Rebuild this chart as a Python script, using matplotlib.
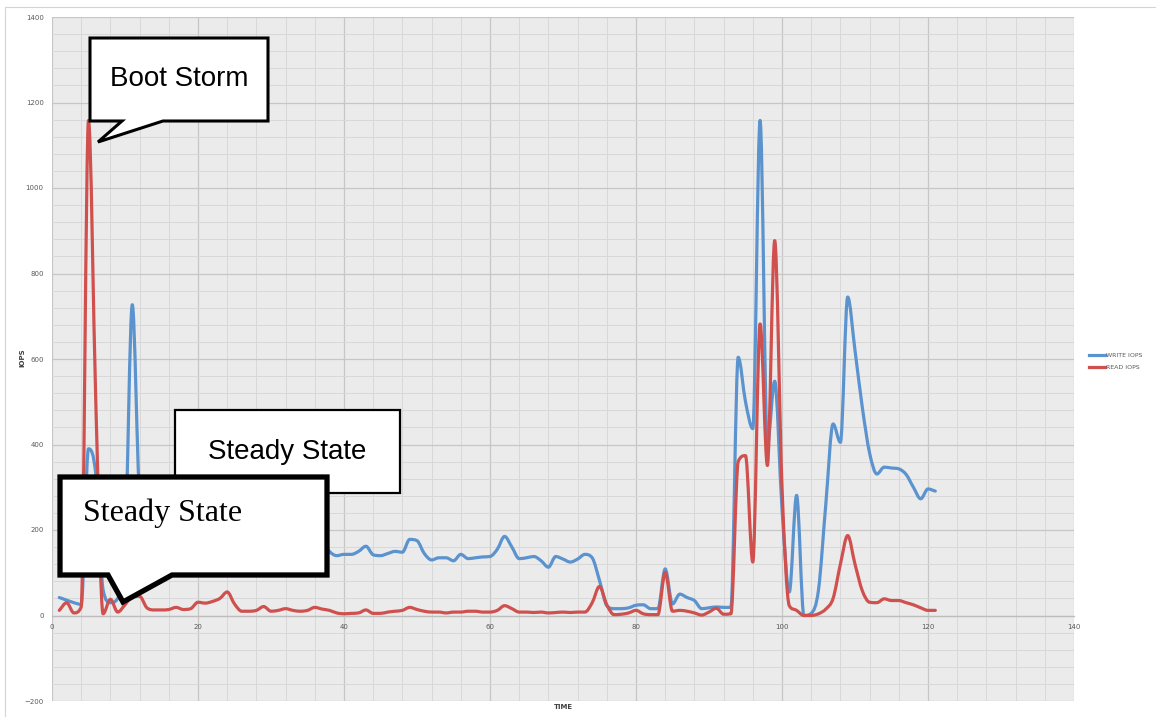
import matplotlib
matplotlib.use("Agg")
import matplotlib.pyplot as plt
from matplotlib.path import Path
from matplotlib.patches import PathPatch, Polygon, Rectangle
from matplotlib.lines import Line2D
from matplotlib.ticker import MultipleLocator

# time samples
time = list(range(1, 122))

write_iops = [42, 36, 30, 26, 390, 330, 60, 30, 40, 150, 727, 280, 220,
              200, 190, 195, 200, 190, 200, 210, 205, 215, 230, 240, 210, 190,
              185, 190, 200, 195, 190, 195, 200, 210, 215, 200, 175,
              150, 140, 143, 143, 150, 162, 142, 140, 145, 150, 148, 178, 175,
              145, 130, 135, 135, 128, 143, 133, 135, 137, 138, 155, 185, 160,
              133, 135, 138, 128, 113, 138, 132, 125, 132, 143, 135, 82,
              23, 16, 16, 18, 24, 25, 16, 16, 109, 27, 50, 42, 35, 16, 18, 20,
              19, 19,
              604, 500, 437, 1158, 400, 548, 250, 55, 281, 0, 5, 60, 260, 448,
              405, 745, 620, 487, 380, 331, 347, 345, 343, 330, 300, 273, 296, 291]

read_iops = [12, 30, 6, 20, 1158, 500, 4, 38, 8, 25, 45, 45, 18,
             13, 13, 14, 19, 14, 16, 31, 29, 33, 40, 55, 27, 10, 10, 12, 21,
             10, 12, 16, 12, 10, 12, 19, 15,
             12, 6, 4, 5, 6, 13, 5, 5, 8, 10, 12, 19, 14, 10, 8, 8, 6, 8, 8,
             10, 10, 8, 8, 12, 23, 16, 8, 8, 7, 8, 6, 7, 8, 7, 8, 8, 30, 68,
             25, 2, 3, 6, 12, 4, 2, 2, 101, 10, 12, 10, 6, 1, 8, 17, 3, 4,
             360, 374, 125, 682, 351, 877, 300, 23, 12, 0, 0, 4, 15, 40, 120,
             187, 120, 58, 31, 30, 39, 35, 35, 30, 25, 18, 12, 12]

series_names = ["WRITE IOPS", "READ IOPS"]
series_colors = ["#5b93cf", "#d0504e"]

W, H = 1156, 717


def smooth_path(xs, ys):
    # smoothed line drawn as cubic Bezier segments (monotone tangents, no overshoot)
    n = len(xs)
    d = [(ys[i + 1] - ys[i]) / (xs[i + 1] - xs[i]) for i in range(n - 1)]
    m = [d[0]] + [0.0] * (n - 2) + [d[-1]]
    for i in range(1, n - 1):
        if d[i - 1] * d[i] > 0:
            m[i] = (d[i - 1] + d[i]) / 2
            a, b = m[i] / d[i - 1], m[i] / d[i]
            s = a * a + b * b
            if s > 9:
                m[i] *= 3 / s ** 0.5
    verts = [(xs[0], ys[0])]
    codes = [Path.MOVETO]
    for i in range(n - 1):
        h = (xs[i + 1] - xs[i]) / 3
        verts += [(xs[i] + h, ys[i] + m[i] * h),
                  (xs[i + 1] - h, ys[i + 1] - m[i + 1] * h),
                  (xs[i + 1], ys[i + 1])]
        codes += [Path.CURVE4] * 3
    return Path(verts, codes)


def px(x, y):
    return (x / W, 1 - y / H)


fig = plt.figure(figsize=(W / 100, H / 100), dpi=100)
fig.add_artist(Rectangle(px(5, 7), 1.2, -1.2, transform=fig.transFigure,
                         fill=False, edgecolor="#d4d4d4", linewidth=0.8))

ax = fig.add_axes([52 / W, 1 - 701 / H, (1074 - 52) / W, (701 - 17) / H])
ax.set_facecolor("#ebebeb")
ax.set_xlim(0, 140)
ax.set_ylim(-200, 1400)
ax.xaxis.set_major_locator(MultipleLocator(20))
ax.xaxis.set_minor_locator(MultipleLocator(4))
ax.yaxis.set_major_locator(MultipleLocator(200))
ax.yaxis.set_minor_locator(MultipleLocator(40))
ax.grid(which="major", color="#c6c6c6", linewidth=0.9)
ax.grid(which="minor", color="#d8d8d8", linewidth=0.7)
ax.set_axisbelow(True)
for side in ["top", "right", "left"]:
    ax.spines[side].set_visible(False)
ax.spines["bottom"].set_position(("data", 0))
ax.spines["bottom"].set_color("#bdbdbd")
ax.spines["bottom"].set_linewidth(0.9)
ax.tick_params(which="both", length=0, labelsize=5, labelcolor="#595959")
ax.tick_params(axis="x", pad=6)
ax.tick_params(axis="y", pad=6)

for vals, color in zip([write_iops, read_iops], series_colors):
    ax.add_patch(PathPatch(smooth_path(time, vals), fill=False, edgecolor=color,
                           linewidth=2.3, capstyle="round", joinstyle="round",
                           zorder=3))

handles = [Line2D([], [], color=c, linewidth=2.3) for c in series_colors]
fig.legend(handles, series_names, loc="upper left",
           bbox_to_anchor=px(1083, 347), frameon=False, fontsize=4.5,
           labelcolor="#595959", handlelength=2.6, handletextpad=0.1,
           labelspacing=1.1)

fig.text(*px(22, 358), "IOPS", rotation=90, fontsize=5, fontweight="bold",
         color="#404040", ha="center", va="center")
fig.text(*px(563, 707), "TIME", fontsize=5, fontweight="bold",
         color="#404040", ha="center", va="center")

# callouts
boot = [(90, 38), (268, 38), (268, 121), (163, 121), (98, 142), (122, 121), (90, 121)]
fig.add_artist(Polygon([px(*p) for p in boot], closed=True, transform=fig.transFigure,
                       facecolor="white", edgecolor="black", linewidth=2.2, zorder=5))
fig.text(*px(179, 79), "Boot Storm", fontsize=20, family="Liberation Sans",
         ha="center", va="center", zorder=6)

fig.add_artist(Rectangle(px(175, 493), 225 / W, 83 / H, transform=fig.transFigure,
                         facecolor="white", edgecolor="black", linewidth=1.6, zorder=5))
fig.text(*px(287, 452), "Steady State", fontsize=20, family="Liberation Sans",
         ha="center", va="center", zorder=6)

steady = [(60, 477), (327, 477), (327, 575), (172, 575), (123, 602), (108, 575), (60, 575)]
fig.add_artist(Polygon([px(*p) for p in steady], closed=True, transform=fig.transFigure,
                       facecolor="white", edgecolor="black", linewidth=3.8, zorder=7))
fig.text(*px(83, 513), "Steady State", fontsize=23, family="Liberation Serif",
         ha="left", va="center", zorder=8)

fig.savefig("out.png", dpi=100)
